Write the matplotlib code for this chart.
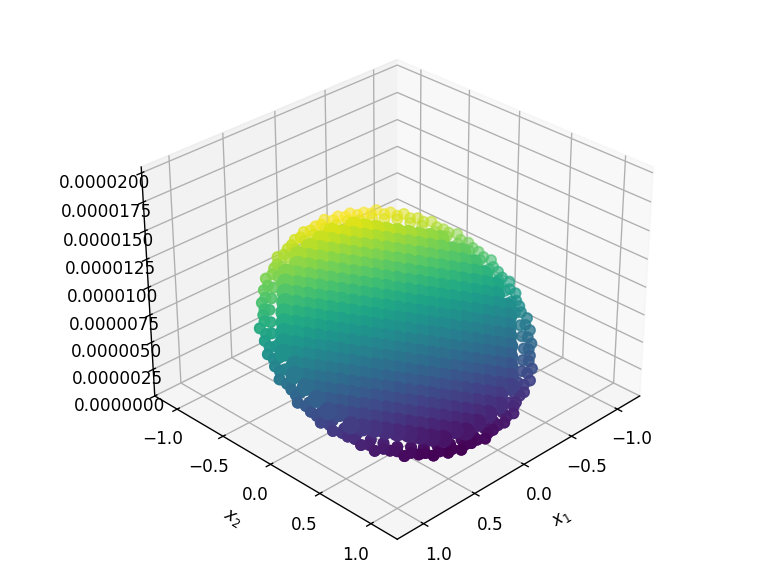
import numpy as np
import matplotlib
matplotlib.use("Agg")
import matplotlib.pyplot as plt
from matplotlib.colors import Normalize
from matplotlib.ticker import FormatStrFormatter

# values of z are in units of 1e-5
core_row_x2 = [-.85,-.795,-.74,-.68,-.625,-.57,-.51,-.455,-.40,-.34,-.285,-.225,-.17,-.115,-.055,0,
               .055,.115,.17,.225,.285,.34,.40,.455,.51,.57,.625,.68,.74,.795,.85]
o15 = [-.17,-.057,.057,.17]
i3 = [-.34,-.225,-.115,0,.115,.225,.34]
o35 = [-.40,-.285,-.17,-.057,.057,.17,.285,.40]
i4 = [-.455,-.34,-.225,-.115,0,.115,.225,.34,.455]
o45 = [-.51,-.40,-.285,-.17,-.057,.057,.17,.285,.40,.51]
i5 = [-.57,-.455,-.34,-.225,-.115,0,.115,.225,.34,.455,.57]
o55 = [-.625,-.51,-.40,-.285,-.17,-.057,.057,.17,.285,.40,.51,.625]
i6 = [-.68,-.57,-.455,-.34,-.225,-.115,0,.115,.225,.34,.455,.57,.68]
o65 = [-.74,-.625,-.51,-.40,-.285,-.17,-.057,.057,.17,.285,.40,.51,.625,.74]
i7 = [-.795,-.68,-.57,-.455,-.34,-.225,-.115,0,.115,.225,.34,.455,.57,.68,.795]
o75 = [-.85,-.74,-.625,-.51,-.40,-.285,-.17,-.057,.057,.17,.285,.40,.51,.625,.74,.85]
core_row_x1 = [o15,i3,o35,i4,o45,i5,o55,i6,o65,i7,o65,i7,o75,i7,o75,i7,
               o75,i7,o75,i7,o65,i7,o65,i6,o55,i5,o45,i4,o35,i3,o15]
core_row_z = [
 [1.06,1.037,1.014,.991],
 [1.067,1.044,1.021,.998,.975,.952,.929],
 [1.051,1.028,1.005,.982,.96,.937,.914,.891],
 [1.036,1.013,.99,.967,.944,.921,.898,.875,.852],
 [1.02,.997,.974,.951,.928,.906,.883,.86,.837,.814],
 [1.005,.982,.959,.936,.913,.89,.867,.844,.821,.798,.775],
 [.99,.967,.944,.921,.898,.875,.851,.828,.805,.782,.759,.736],
 [.974,.951,.928,.905,.882,.859,.836,.813,.79,.767,.744,.721,.698],
 [.959,.936,.913,.89,.867,.844,.82,.798,.775,.752,.729,.706,.683,.66],
 [.943,.92,.897,.874,.851,.828,.805,.782,.759,.736,.713,.69,.667,.644,.621],
 [.905,.882,.859,.836,.813,.79,.767,.743,.72,.697,.674,.651,.628,.605],
 [.889,.866,.843,.82,.797,.774,.751,.728,.705,.682,.659,.636,.613,.59,.567],
 [.874,.851,.828,.805,.782,.759,.736,.713,.69,.667,.644,.621,.598,.575,.552,.529],
 [.835,.812,.789,.766,.743,.72,.697,.674,.651,.628,.605,.582,.559,.536,.513],
 [.82,.797,.774,.751,.728,.705,.682,.659,.636,.613,.59,.567,.544,.521,.498,.475],
 [.781,.758,.735,.712,.689,.666,.643,.62,.597,.574,.551,.528,.505,.482,.459],
 [.766,.743,.72,.697,.674,.651,.628,.605,.582,.559,.536,.513,.49,.467,.444,.421],
 [.727,.704,.681,.658,.635,.612,.589,.566,.543,.52,.497,.474,.451,.428,.405],
 [.712,.689,.666,.643,.62,.597,.574,.551,.528,.505,.482,.459,.436,.413,.39,.367],
 [.673,.65,.627,.604,.581,.558,.535,.512,.489,.466,.443,.42,.397,.374,.351],
 [.635,.612,.589,.566,.543,.52,.497,.473,.45,.427,.404,.381,.358,.335],
 [.619,.596,.573,.55,.527,.504,.481,.458,.435,.412,.389,.366,.343,.32,.297],
 [.581,.558,.535,.512,.489,.466,.443,.419,.396,.373,.35,.327,.304,.281],
 [.542,.519,.496,.473,.45,.427,.404,.381,.358,.335,.312,.289,.266],
 [.504,.481,.458,.435,.412,.389,.365,.342,.319,.296,.273,.25],
 [.465,.442,.419,.396,.373,.35,.327,.304,.281,.258,.235],
 [.426,.403,.38,.357,.334,.312,.289,.266,.243,.22],
 [.388,.365,.342,.319,.296,.273,.25,.227,.204],
 [.349,.326,.303,.28,.258,.235,.212,.189],
 [.311,.288,.265,.242,.219,.196,.173],
 [.25,.227,.204,.181],
]

rim_x1 = [
 .98,.95,.955,.93,.87,.845,.80,.70,.66,.56,.49,.39,.30,.20,.10,0,
 -.10,-.205,-.29,-.39,-.49,-.575,-.64,-.72,-.79,-.845,-.87,-.925,-.96,-.95,
 -.98,-.95,-.945,-.935,-.87,-.85,-.78,-.725,-.65,-.58,-.48,-.395,-.30,-.205,-.10,
 0,.10,.20,.30,.39,.49,.57,.65,.71,.80,.84,.895,.915,.96,.945,
 .91,.90,.875,.85,.805,.76,.705,.645,.57,.50,.41,.33,.24,.15,.045,-.045,-.15,-.24,-.33,-.41,
 -.50,-.57,-.645,-.705,-.76,-.805,-.85,-.875,-.90,-.91,-.91,-.90,-.875,-.85,-.805,-.76,-.705,-.645,-.57,-.50,
 -.41,-.33,-.24,-.15,-.045,.045,.15,.24,.33,.41,.50,.57,.645,.705,.76,.805,.85,.875,.90,.91,
 .95,.94,.915,.885,.845,.795,.735,.67,.60,.52,.43,.345,.25,.15,.05,
 -.05,-.15,-.25,-.345,-.43,-.52,-.60,-.67,-.735,-.795,-.845,-.885,-.915,-.94,-.95,
 -.95,-.94,-.915,-.885,-.845,-.795,-.735,-.67,-.60,-.52,-.43,-.345,-.25,-.15,-.05,
 .05,.15,.25,.345,.43,.52,.60,.67,.735,.795,.845,.885,.915,.94,.95]
rim_x2 = [
 0,.10,.205,.30,.385,.49,.58,.63,.73,.77,.845,.89,.93,.93,.97,.95,
 .965,.955,.90,.885,.85,.79,.71,.65,.57,.49,.39,.30,.205,.10,
 0,-.10,-.20,-.305,-.385,-.49,-.565,-.655,-.72,-.80,-.83,-.89,-.92,-.965,-.95,
 -.97,-.96,-.93,-.93,-.87,-.85,-.785,-.72,-.64,-.58,-.485,-.395,-.30,-.205,-.10,
 .045,.15,.24,.33,.41,.50,.57,.645,.705,.76,.805,.85,.875,.90,.91,.91,.90,.875,.85,.805,
 .76,.705,.645,.57,.50,.41,.33,.24,.15,.045,-.045,-.15,-.24,-.33,-.41,-.50,-.57,-.645,-.705,-.76,
 -.805,-.85,-.875,-.90,-.91,-.91,-.90,-.875,-.85,-.805,-.76,-.705,-.645,-.57,-.50,-.41,-.33,-.24,-.15,-.045,
 .05,.15,.25,.345,.43,.52,.60,.67,.735,.795,.845,.885,.915,.94,.95,
 .95,.94,.915,.885,.845,.795,.735,.67,.60,.52,.43,.345,.25,.15,.05,
 -.05,-.15,-.25,-.345,-.43,-.52,-.60,-.67,-.735,-.795,-.845,-.885,-.915,-.94,-.95,
 -.95,-.94,-.915,-.885,-.845,-.795,-.735,-.67,-.60,-.52,-.43,-.345,-.25,-.15,-.05]
rim_z = [
 .424,.377,.334,.294,.256,.221,.191,.167,.149,.132,.125,.122,.123,.132,.143,.161,
 .185,.212,.243,.28,.321,.362,.411,.457,.509,.559,.612,.666,.716,.765,
 .816,.863,.906,.946,.984,1.019,1.049,1.073,1.091,1.108,1.115,1.118,1.117,1.108,1.097,
 1.079,1.055,1.028,.997,.96,.919,.878,.829,.783,.731,.681,.628,.574,.524,.475,
 .414,.368,.33,.29,.263,.228,.207,.181,.17,.157,.154,.148,.156,.163,.179,.197,.223,.252,.282,.32,
 .359,.40,.443,.493,.536,.589,.636,.684,.732,.782,.826,.872,.91,.949,.978,1.012,1.033,1.059,1.07,1.083,
 1.086,1.092,1.084,1.077,1.061,1.043,1.017,.988,.958,.92,.881,.84,.797,.747,.704,.651,.604,.556,.508,.458,
 .404,.359,.316,.277,.245,.212,.187,.167,.15,.137,.132,.13,.135,.143,.159,
 .179,.203,.235,.27,.308,.347,.392,.437,.483,.534,.586,.635,.686,.739,.788,
 .836,.881,.924,.963,.995,1.028,1.053,1.073,1.09,1.103,1.108,1.11,1.105,1.097,1.081,
 1.061,1.036,1.004,.971,.934,.893,.848,.803,.756,.706,.654,.605,.554,.501,.452]

axis_ticks = [-1.0, -0.5, 0.0, 0.5, 1.0]
z_ticks = [0, 2.5e-6, 5e-6, 7.5e-6, 1e-5, 1.25e-5, 1.5e-5, 1.75e-5, 2e-5]

core_x1 = np.concatenate(core_row_x1)
core_x2 = np.repeat(core_row_x2, [len(r) for r in core_row_x1])
core_z = np.concatenate(core_row_z) * 1e-5
rim_z_v = np.array(rim_z) * 1e-5

fig = plt.figure(figsize=(6.4, 4.8), dpi=121.4)
ax = fig.add_subplot(111, projection='3d', computed_zorder=False)
ax.set_position([0.116, 0.115, 0.775, 0.77])
ax.set_box_aspect((4, 4, 3), zoom=1.22)
norm = Normalize(vmin=0.12e-5, vmax=1.12e-5)
for layer in (2, 2.5):
    ax.scatter(rim_x1, rim_x2, rim_z_v, c=rim_z_v, cmap='viridis', norm=norm, s=36, zorder=layer)
ax.scatter(core_x1, core_x2, core_z, c=core_z, cmap='viridis', norm=norm, s=115,
           depthshade=False, linewidths=0, zorder=3)
ax.view_init(elev=30, azim=45)
ax.set_xlim(-1.25, 1.25)
ax.set_ylim(-1.25, 1.25)
ax.set_zlim(0, 2.05e-5)
ax.set_xticks(axis_ticks)
ax.set_yticks(axis_ticks)
ax.set_zticks(z_ticks)
ax.zaxis.set_major_formatter(FormatStrFormatter('%.7f'))
ax.tick_params(axis='x', pad=0)
ax.tick_params(axis='y', pad=0)
ax.tick_params(axis='z', pad=2)
ax.set_xlabel('$x_1$', labelpad=-1)
ax.set_ylabel('$x_2$', labelpad=-1)
fig.savefig('out.png', dpi=121.4)
